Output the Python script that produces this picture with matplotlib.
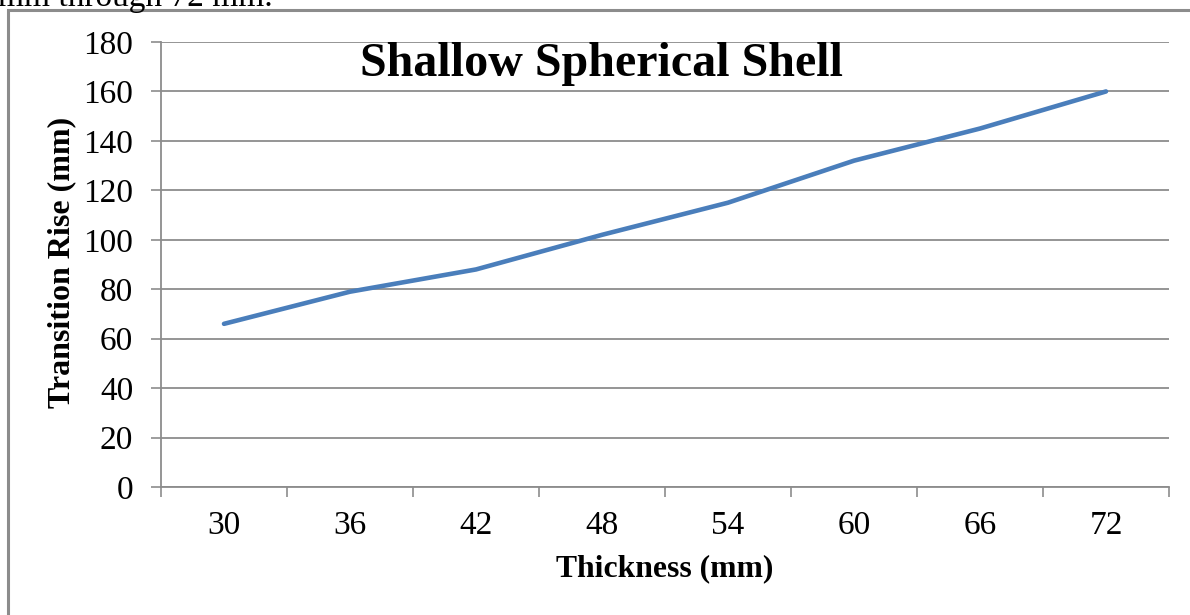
import matplotlib
matplotlib.use("Agg")
import matplotlib.pyplot as plt
from matplotlib.patches import Rectangle

categories = ["30", "36", "42", "48", "54", "60", "66", "72"]
rise = [66, 79, 88, 102, 115, 132, 145, 160]
yticks = [0, 20, 40, 60, 80, 100, 120, 140, 160, 180]

W, H = 1190, 615
fig = plt.figure(figsize=(W / 100, H / 100), dpi=100)
plt.rcParams['font.family'] = ['Liberation Serif', 'DejaVu Serif']

def fx(px):
    return px / W

def fy(py):
    return 1 - py / H

# outer chart border (top and left visible)
fig.patches.append(Rectangle((fx(7.5), fy(1200)), fx(1400), fy(10) - fy(1200),
                             transform=fig.transFigure, fill=False,
                             edgecolor='#8c8c8c', linewidth=2.2, zorder=0))

# cropped text line above chart
fig.text(fx(-2), fy(6), "mm through 72 mm.", fontsize=24, va='baseline', ha='left',
         color='black')

ax = fig.add_axes([fx(161), fy(487), fx(1169) - fx(161), fy(42) - fy(487)])
xs = [i + 0.5 for i in range(len(categories))]
ax.plot(xs, rise, color='#4A7EBB', linewidth=3.3, solid_capstyle='round', zorder=3)

ax.set_xlim(0, len(categories))
ax.set_ylim(0, 180)
ax.set_yticks(yticks)
ax.set_yticklabels([str(v) for v in yticks])
ax.set_xticks(range(len(categories) + 1))
ax.set_xticklabels([])
ax.set_xticks(xs, minor=True)
ax.set_xticklabels(categories, minor=True)
ax.tick_params(axis='x', which='major', length=7, width=1.2, color='#8c8c8c', direction='out')
ax.tick_params(axis='x', which='minor', length=0, pad=17, labelsize=24)
ax.tick_params(axis='y', length=7, width=1.2, color='#8c8c8c', direction='out', pad=13, labelsize=24)

ax.grid(axis='y', color='#8c8c8c', linewidth=1.3, zorder=1)
for s in ['top', 'right']:
    ax.spines[s].set_visible(False)
for s in ['left', 'bottom']:
    ax.spines[s].set_color('#8c8c8c')
    ax.spines[s].set_linewidth(1.3)

fig.text(fx(602), fy(76), "Shallow Spherical Shell", fontsize=34.6, fontweight='bold',
         ha='center', va='baseline')
fig.text(fx(665), fy(569), "Thickness (mm)", fontsize=22.8, fontweight='bold',
         ha='center', va='center')
fig.text(fx(62), fy(262), "Transition Rise (mm)", fontsize=23, fontweight='bold',
         ha='center', va='center', rotation=90)

fig.savefig("out.png", dpi=100)
